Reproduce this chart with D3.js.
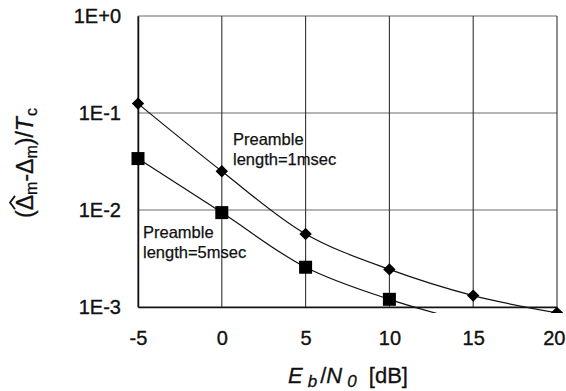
<!DOCTYPE html>
<html>
<head>
<meta charset="utf-8">
<script src="https://cdn.jsdelivr.net/npm/d3@7"></script>
<style>
  html, body { margin: 0; padding: 0; background: #fff; }
  svg { display: block; font-family: "Liberation Sans", Arial, sans-serif; }
</style>
</head>
<body>
<svg id="chart" width="566" height="391"></svg>
<script>
// Eb/N0 sweep in dB
const ebn0 = [-5, 0, 5, 10, 15, 20];
// Normalised timing error, preamble length 1 msec (diamonds)
const err1ms = [0.125, 0.0251, 0.00566, 0.00244, 0.00131, 0.00087];
// Normalised timing error, preamble length 5 msec (squares)
const err5ms = [0.0339, 0.0094, 0.00257, 0.0012, 0.00068];
// Axis ticks
const xTicks = [-5, 0, 5, 10, 15, 20];
const yTicks = [1, 0.1, 0.01, 0.001];
const yTickLabels = ["1E+0", "1E-1", "1E-2", "1E-3"];

const svg = d3.select("#chart");
const W = 566, H = 391;
const m = { left: 138, right: 9, top: 16, bottom: 84 };
const iw = W - m.left - m.right, ih = H - m.top - m.bottom;
const ink = "#111";

const x = d3.scaleLinear().domain([-5, 20]).range([m.left, m.left + iw]);
const y = d3.scaleLog().domain([0.001, 1]).range([m.top + ih, m.top]);

// plot clip: marks may spill a few pixels below the lowest decade
svg.append("defs").append("clipPath").attr("id", "plotClip")
  .append("rect")
  .attr("x", m.left - 10).attr("y", m.top - 10)
  .attr("width", iw + 20).attr("height", ih + 16);

// gridlines
const grid = svg.append("g");
grid.selectAll("line.h").data(yTicks).join("line")
  .attr("x1", m.left).attr("x2", m.left + iw)
  .attr("y1", d => y(d)).attr("y2", d => y(d))
  .attr("stroke", "#6a6a6a").attr("stroke-width", 1);
grid.selectAll("line.v").data(xTicks).join("line")
  .attr("y1", m.top).attr("y2", m.top + ih)
  .attr("x1", d => x(d)).attr("x2", d => x(d))
  .attr("stroke", "#333").attr("stroke-width", 1.1);

// heavy-ish label style
function labelStyle(sel, size) {
  sel.attr("font-size", size).attr("fill", ink)
    .attr("stroke", ink).attr("stroke-width", 0.35)
    .attr("font-family", "Liberation Sans, Arial, sans-serif");
}

// axes drawn with d3 axis generators, no tick marks (labels only)
const xAxis = svg.append("g")
  .attr("transform", `translate(0,${m.top + ih})`)
  .call(d3.axisBottom(x).tickValues(xTicks).tickSize(0).tickPadding(24)
    .tickFormat(d => String(d)));
xAxis.select(".domain").attr("stroke", ink).attr("stroke-width", 1.5);
labelStyle(xAxis.selectAll("text"), 20);
// keep the last label inside the canvas
xAxis.selectAll(".tick").filter(d => d === 20).select("text")
  .attr("text-anchor", "end").attr("x", W - 1 - x(20));

const yAxis = svg.append("g")
  .attr("transform", `translate(${m.left},0)`)
  .call(d3.axisLeft(y).tickValues(yTicks).tickSize(0).tickPadding(17)
    .tickFormat((d, i) => yTickLabels[i]));
yAxis.select(".domain").attr("stroke", ink).attr("stroke-width", 1.5);
labelStyle(yAxis.selectAll("text"), 20);

// series
const line = d3.line()
  .x((d, i) => x(ebn0[i]))
  .y(d => y(d))
  .curve(d3.curveCatmullRom.alpha(0.5));

const plot = svg.append("g").attr("clip-path", "url(#plotClip)");

plot.append("path").datum(err1ms)
  .attr("d", line).attr("fill", "none")
  .attr("stroke", ink).attr("stroke-width", 1.2);
plot.append("path").datum(err5ms)
  .attr("d", line).attr("fill", "none")
  .attr("stroke", ink).attr("stroke-width", 1.2);

plot.selectAll("path.diamond").data(err1ms).join("path")
  .attr("class", "diamond")
  .attr("transform", (d, i) => `translate(${x(ebn0[i])},${y(d)})`)
  .attr("d", "M0,-6.2L6.2,0L0,6.2L-6.2,0Z")
  .attr("fill", "#000");

plot.selectAll("rect.square").data(err5ms).join("rect")
  .attr("class", "square")
  .attr("x", (d, i) => x(ebn0[i]) - 6.5)
  .attr("y", d => y(d) - 6.5)
  .attr("width", 13).attr("height", 13)
  .attr("fill", "#000");

// series annotations
function note(tx, ty, lines) {
  const t = svg.append("text").attr("x", tx).attr("y", ty);
  labelStyle(t, 16.5);
  t.attr("stroke-width", 0.25);
  lines.forEach((s, i) => t.append("tspan").attr("x", tx).attr("dy", i ? 20 : 0).text(s));
}
note(233, 145, ["Preamble", "length=1msec"]);
note(143, 238, ["Preamble", "length=5msec"]);

// x axis title: E_b/N_0 [dB]
const xt = svg.append("text").attr("x", 348).attr("y", 383)
  .attr("text-anchor", "middle");
labelStyle(xt, 22);
xt.attr("stroke-width", 0.3);
xt.append("tspan").attr("font-style", "italic").text("E");
xt.append("tspan").attr("font-style", "italic").attr("font-size", 17).attr("dx", 5).attr("dy", 4).text("b");
xt.append("tspan").attr("dy", -4).attr("dx", 3).text("/");
xt.append("tspan").attr("font-style", "italic").text("N");
xt.append("tspan").attr("font-style", "italic").attr("font-size", 17).attr("dx", 5).attr("dy", 4).text("0");
xt.append("tspan").attr("dy", -4).attr("dx", 6).text(" [dB]");

// y axis title: (Δ̂_m - Δ_m)/T_c, hat drawn as a small caret
const yg = svg.append("g").attr("transform", "translate(33,163) rotate(-90)");
const yt = yg.append("text").attr("text-anchor", "middle");
labelStyle(yt, 23);
yt.attr("stroke-width", 0.3);
yt.append("tspan").text("(\u0394");
yt.append("tspan").attr("font-size", 16).attr("dy", 4).text("m");
yt.append("tspan").attr("dy", -4).text("-\u0394");
yt.append("tspan").attr("font-size", 16).attr("dy", 4).text("m");
yt.append("tspan").attr("dy", -4).text(")/");
yt.append("tspan").attr("font-style", "italic").text("T");
yt.append("tspan").attr("font-size", 16).attr("dy", 4).attr("dx", 1).text("c");

const dBox = yt.node().getExtentOfChar(1);
const capTop = -23 * 0.716;
yg.append("path")
  .attr("d", `M${dBox.x + 1},${capTop - 1.5}L${dBox.x + dBox.width / 2},${capTop - 6.5}L${dBox.x + dBox.width - 1},${capTop - 1.5}`)
  .attr("fill", "none").attr("stroke", ink).attr("stroke-width", 1.8);
</script>
</body>
</html>
